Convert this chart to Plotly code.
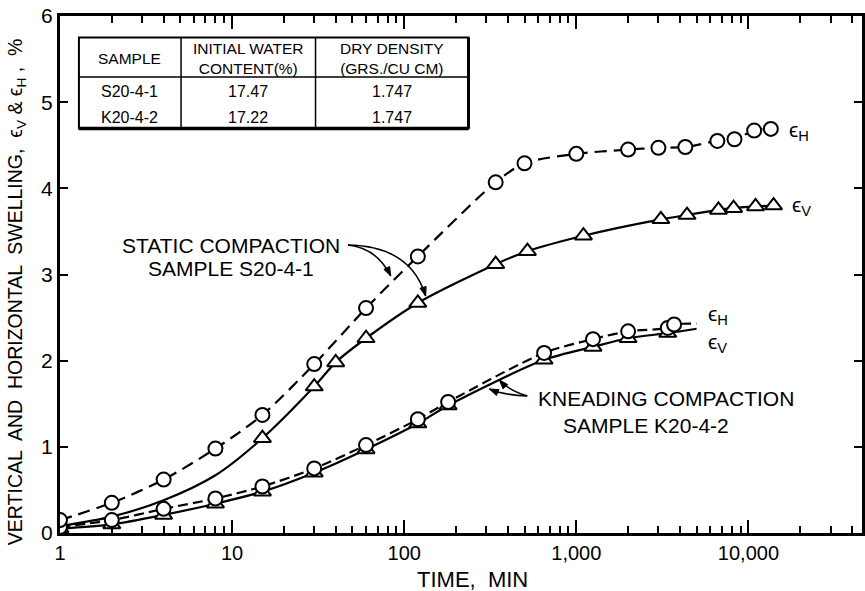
import math
import plotly.graph_objects as go

# ---------------- data ----------------
static_h_t = [1, 2, 4, 8, 15, 30, 60, 120, 340, 500, 1000, 2000, 3000, 4300, 6600, 8300, 10800, 13500]
static_h_v = [0.15, 0.35, 0.62, 0.98, 1.37, 1.96, 2.61, 3.21, 4.07, 4.29, 4.40, 4.45, 4.47, 4.48, 4.55, 4.57, 4.67, 4.69]

static_v_t = [1, 2, 4, 8, 15, 30, 40, 60, 120, 340, 520, 1100, 3100, 4400, 6700, 8200, 11000, 14000]
static_v_v = [0.08, 0.19, 0.38, 0.67, 1.10, 1.70, 1.98, 2.26, 2.67, 3.12, 3.27, 3.45, 3.64, 3.69, 3.75, 3.77, 3.79, 3.80]
static_v_first_marker = 4  # triangles visible from t = 15 min on

knead_h_t = [1, 2, 4, 8, 15, 30, 60, 120, 180, 650, 1250, 2000, 3400, 3700, 5000]
knead_h_v = [0.07, 0.15, 0.28, 0.40, 0.54, 0.75, 1.02, 1.32, 1.52, 2.09, 2.25, 2.34, 2.38, 2.42, 2.43]
knead_h_marker_count = 14

knead_v_t = [1, 2, 4, 8, 15, 30, 60, 120, 180, 650, 1250, 2000, 3400, 5000]
knead_v_v = [0.05, 0.10, 0.21, 0.34, 0.48, 0.70, 0.97, 1.27, 1.48, 2.01, 2.16, 2.26, 2.32, 2.37]
knead_v_marker_count = 13

x_major_vals = [1, 10, 100, 1000, 10000]
x_major_text = ["1", "10", "100", "1,000", "10,000"]
y_tick_vals = [0, 1, 2, 3, 4, 5, 6]

table_header = ["SAMPLE", "INITIAL WATER<br>CONTENT(%)", "DRY DENSITY<br>(GRS./CU CM)"]
table_samples = ["S20-4-1", "K20-4-2"]
table_water = ["17.47", "17.22"]
table_density = ["1.747", "1.747"]

# ---------------- layout geometry ----------------
W, H = 865, 591
L, R, T, B = 60, 865, 16, 533
FONT = "Liberation Sans"


def PX(x):
    return (x - L) / (R - L)


def PY(y):
    return (B - y) / (B - T)


minor_vals = []
for d in [1, 10, 100, 1000, 10000]:
    for k in range(2, 10):
        if d * k < 46000:
            minor_vals.append(d * k)

fig = go.Figure()

LW = 2.2
# lines
fig.add_trace(go.Scatter(x=static_h_t, y=static_h_v, mode="lines",
                         line=dict(color="black", width=LW, dash="12px,7px", shape="spline", smoothing=0.8),
                         hoverinfo="skip"))
fig.add_trace(go.Scatter(x=static_v_t, y=static_v_v, mode="lines",
                         line=dict(color="black", width=LW, shape="spline", smoothing=0.8),
                         hoverinfo="skip"))
fig.add_trace(go.Scatter(x=knead_h_t, y=knead_h_v, mode="lines",
                         line=dict(color="black", width=LW, dash="10px,5px", shape="spline", smoothing=0.8),
                         hoverinfo="skip"))
fig.add_trace(go.Scatter(x=knead_v_t, y=knead_v_v, mode="lines",
                         line=dict(color="black", width=LW, shape="spline", smoothing=0.8),
                         hoverinfo="skip"))

tri = dict(symbol="triangle-up", size=15, color="white", line=dict(color="black", width=2))
circ = dict(symbol="circle", size=14, color="white", line=dict(color="black", width=2))

fig.add_trace(go.Scatter(x=knead_v_t[:knead_v_marker_count], y=knead_v_v[:knead_v_marker_count],
                         mode="markers", marker=tri))
fig.add_trace(go.Scatter(x=knead_h_t[:knead_h_marker_count], y=knead_h_v[:knead_h_marker_count],
                         mode="markers", marker=circ))
fig.add_trace(go.Scatter(x=static_v_t[static_v_first_marker:], y=static_v_v[static_v_first_marker:],
                         mode="markers", marker=tri))
fig.add_trace(go.Scatter(x=static_h_t, y=static_h_v, mode="markers", marker=circ))

# ---------------- table ----------------
shapes = []
tl, tr, tt, th, tb = 79, 470, 37.5, 77, 128.5
c1, c2 = 181.5, 316.5
shapes.append(dict(type="rect", xref="paper", yref="paper", x0=PX(tl), x1=PX(tr), y0=PY(tb), y1=PY(tt),
                   line=dict(color="black", width=2), fillcolor="white", layer="above"))
shapes.append(dict(type="line", xref="paper", yref="paper", x0=PX(tl), x1=PX(tr), y0=PY(tb), y1=PY(tb),
                   line=dict(color="black", width=3.5)))
shapes.append(dict(type="line", xref="paper", yref="paper", x0=PX(tr), x1=PX(tr), y0=PY(tb), y1=PY(tt),
                   line=dict(color="black", width=3)))
shapes.append(dict(type="line", xref="paper", yref="paper", x0=PX(tl), x1=PX(tr), y0=PY(th), y1=PY(th),
                   line=dict(color="black", width=1.5)))
for cx in (c1, c2):
    shapes.append(dict(type="line", xref="paper", yref="paper", x0=PX(cx), x1=PX(cx), y0=PY(tb), y1=PY(tt),
                       line=dict(color="black", width=1.5)))

annotations = []


def txt(x, y, s, size=15, xanchor="center", angle=0):
    annotations.append(dict(x=PX(x), y=PY(y), xref="paper", yref="paper", text=s, showarrow=False,
                            font=dict(family=FONT, size=size, color="black"), xanchor=xanchor,
                            yanchor="middle", textangle=angle))


col_x = [(tl + c1) / 2, (c1 + c2) / 2, (c2 + tr) / 2]
for cx, s in zip(col_x, table_header):
    txt(cx, 58, s, size=15.5)
row_y = [92, 117]
for ry, a, b, c in zip(row_y, table_samples, table_water, table_density):
    txt(col_x[0], ry, a, size=16)
    txt(col_x[1], ry, b, size=16)
    txt(col_x[2], ry, c, size=16)

# ---------------- curve labels ----------------
txt(232, 245, "STATIC COMPACTION", size=21)
txt(232, 268, "SAMPLE S20-4-1", size=21)
txt(668, 398, "KNEADING COMPACTION", size=21)
txt(648, 426, "SAMPLE K20-4-2", size=21)

txt(790, 131, "ϵ<sub>H</sub>", size=21, xanchor="left")
txt(793, 206, "ϵ<sub>V</sub>", size=21, xanchor="left")
txt(708, 315, "ϵ<sub>H</sub>", size=21, xanchor="left")
txt(708, 343, "ϵ<sub>V</sub>", size=21, xanchor="left")

# axis titles
txt(474, 579, "TIME,  MIN", size=22)
txt(17, 292, "VERTICAL  AND  HORIZONTAL  SWELLING,  ϵ<sub>V</sub> & ϵ<sub>H</sub> ,  %", size=19.5, angle=-90)

# ---------------- pointer curves ----------------
def curve(p0, c, p1):
    return dict(type="path", xref="paper", yref="paper",
                path=f"M {PX(p0[0])},{PY(p0[1])} Q {PX(c[0])},{PY(c[1])} {PX(p1[0])},{PY(p1[1])}",
                line=dict(color="black", width=1.5))


def head(tip, frm, length=9, half=3.2):
    dx, dy = tip[0] - frm[0], tip[1] - frm[1]
    n = math.hypot(dx, dy)
    ux, uy = dx / n, dy / n
    bx, by = tip[0] - ux * length, tip[1] - uy * length
    px_, py_ = -uy * half, ux * half
    pts = [tip, (bx + px_, by + py_), (bx - px_, by - py_)]
    path = "M " + " L ".join(f"{PX(x)},{PY(y)}" for x, y in pts) + " Z"
    return dict(type="path", xref="paper", yref="paper", path=path,
                fillcolor="black", line=dict(color="black", width=1))


pointers = [
    ((349, 245), (378, 248), (392, 276)),
    ((349, 245), (412, 246), (427, 296)),
    ((529, 396), (505, 395), (491, 389)),
    ((529, 396), (510, 390), (501, 380)),
]
for p0, c, p1 in pointers:
    shapes.append(curve(p0, c, p1))
    shapes.append(head(p1, c))

fig.update_layout(
    width=W, height=H,
    margin=dict(l=L, r=W - R, t=T, b=H - B),
    paper_bgcolor="white", plot_bgcolor="white",
    showlegend=False,
    shapes=shapes,
    annotations=annotations,
    font=dict(family=FONT, color="black"),
    xaxis=dict(type="log", range=[0, 4.66], showgrid=False, zeroline=False,
               showline=True, linecolor="black", linewidth=3, mirror="ticks",
               ticks="inside", ticklen=13, tickwidth=2, tickcolor="black",
               tickvals=x_major_vals, ticktext=x_major_text,
               tickfont=dict(family=FONT, size=20, color="black"),
               minor=dict(tickvals=minor_vals, ticks="inside", ticklen=7, tickwidth=1.8,
                          tickcolor="black", showgrid=False)),
    yaxis=dict(range=[0, 6], showgrid=False, zeroline=False,
               showline=True, linecolor="black", linewidth=3, mirror="ticks",
               ticks="inside", ticklen=8, tickwidth=2, tickcolor="black",
               tickvals=y_tick_vals,
               tickfont=dict(family=FONT, size=21, color="black")),
)

fig.write_html("out.html")
